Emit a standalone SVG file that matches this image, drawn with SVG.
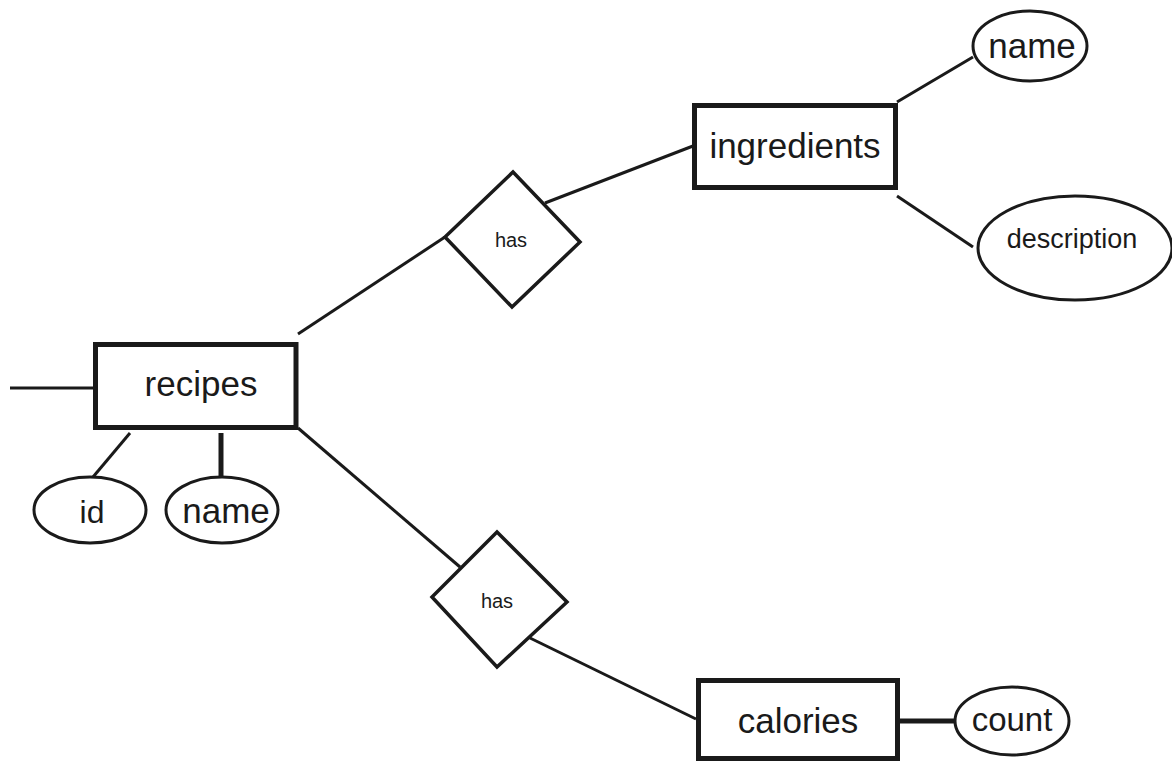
<svg xmlns="http://www.w3.org/2000/svg" width="1172" height="762" viewBox="0 0 1172 762">
<style>
.ent{fill:#fff;stroke:#1a1a1a;stroke-width:5}
.rel{fill:#fff;stroke:#1a1a1a;stroke-width:3.5}
.attr{fill:#fff;stroke:#1a1a1a;stroke-width:3}
.ln{stroke:#1a1a1a;stroke-width:3;fill:none}
.thick{stroke:#1a1a1a;stroke-width:5;fill:none}
text{font-family:"Liberation Sans",Arial,sans-serif;fill:#1a1a1a;text-anchor:middle}
.big{font-size:35px}
.mid{font-size:27px}
.sm{font-size:20px}
</style>
<rect width="1172" height="762" fill="#fff"/>
<g id="connectors">
<line class="ln" x1="10" y1="388" x2="95" y2="388"/>
<line class="ln" x1="130" y1="433" x2="93" y2="477"/>
<line class="thick" x1="221" y1="433" x2="221" y2="477"/>
<line class="ln" x1="298" y1="334" x2="445" y2="237"/>
<line class="ln" x1="545" y1="203" x2="693" y2="146"/>
<line class="ln" x1="897" y1="102" x2="973" y2="57"/>
<line class="ln" x1="897" y1="196" x2="973" y2="247"/>
<line class="ln" x1="298" y1="428" x2="460" y2="567"/>
<line class="ln" x1="530" y1="638" x2="696" y2="719"/>
<line class="thick" x1="900" y1="721" x2="956" y2="721"/>
</g>
<g id="recipes">
<rect class="ent" x="95.5" y="344.5" width="200.5" height="83"/>
<text class="big" x="201" y="396">recipes</text>
</g>
<g id="recipes_id">
<ellipse class="attr" cx="90" cy="510" rx="56" ry="33"/>
<text class="big" x="92" y="523" style="font-size:32px">id</text>
</g>
<g id="recipes_name">
<ellipse class="attr" cx="222" cy="510" rx="56" ry="33"/>
<text class="big" x="226" y="523">name</text>
</g>
<g id="has1">
<polygon class="rel" points="513,172 580,242 512,307 445,237"/>
<text class="sm" x="511" y="247">has</text>
</g>
<g id="ingredients">
<rect class="ent" x="694.5" y="105.5" width="201" height="82"/>
<text class="big" x="795" y="158">ingredients</text>
</g>
<g id="ingredients_name">
<ellipse class="attr" cx="1030" cy="46" rx="57" ry="35"/>
<text class="big" x="1032" y="58">name</text>
</g>
<g id="ingredients_description">
<ellipse class="attr" cx="1075" cy="248" rx="97" ry="52"/>
<text class="mid" x="1072" y="248">description</text>
</g>
<g id="has2">
<polygon class="rel" points="497,532 567,602 497,667 432,597"/>
<text class="sm" x="497" y="608">has</text>
</g>
<g id="calories">
<rect class="ent" x="698.5" y="680.5" width="199" height="78"/>
<text class="big" x="798" y="733">calories</text>
</g>
<g id="calories_count">
<ellipse class="attr" cx="1012" cy="721" rx="57" ry="34"/>
<text class="big" x="1012" y="731" style="font-size:33px">count</text>
</g>
</svg>
